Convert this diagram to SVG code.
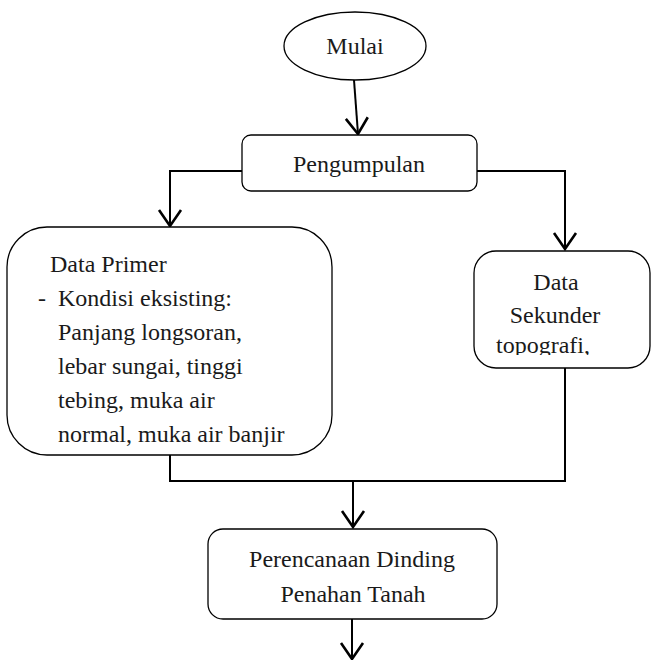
<svg xmlns="http://www.w3.org/2000/svg" width="651" height="660" viewBox="0 0 651 660">
<style>
.box{fill:#fff;stroke:#000;stroke-width:1.3}
.t{font-family:"Liberation Serif","Times New Roman",serif;font-size:24px;fill:#1a1a1a}
.c{text-anchor:middle}
.conn{fill:none;stroke:#000;stroke-width:2}
</style>
<defs>
<marker id="arr" markerUnits="userSpaceOnUse" markerWidth="24" markerHeight="28" viewBox="-20 -14 22 28" refX="0" refY="0" orient="auto">
<path d="M-16,-11 L0,0 L-16,11" fill="none" stroke="#000" stroke-width="2.6"/>
</marker>
<clipPath id="sekClip"><rect x="474" y="251" width="177" height="104"/></clipPath>
</defs>
<rect width="651" height="660" fill="#fff"/>
<g id="connectors">
<line class="conn" x1="354" y1="80" x2="358" y2="134" marker-end="url(#arr)"/>
<path class="conn" d="M242,171 H170 V226" marker-end="url(#arr)"/>
<path class="conn" d="M477,171 H565 V249" marker-end="url(#arr)"/>
<path class="conn" d="M170,455 V481 H565 V368"/>
<path class="conn" d="M353,481 V527" marker-end="url(#arr)"/>
<path class="conn" d="M352,619 V659" marker-end="url(#arr)"/>
</g>
<g id="mulai">
<ellipse class="box" cx="355" cy="46" rx="71" ry="34"/>
<text class="t c" x="355" y="54">Mulai</text>
</g>
<g id="pengumpulan">
<rect class="box" x="242" y="135" width="235" height="56" rx="9"/>
<text class="t c" x="359" y="172">Pengumpulan</text>
</g>
<g id="data-primer">
<rect class="box" x="7" y="227" width="325" height="228" rx="40"/>
<text class="t" x="50" y="272">Data Primer</text>
<text class="t" x="38" y="306">-</text>
<text class="t" x="58" y="306">Kondisi eksisting:</text>
<text class="t" x="58" y="340">Panjang longsoran,</text>
<text class="t" x="58" y="374">lebar sungai, tinggi</text>
<text class="t" x="58" y="408">tebing, muka air</text>
<text class="t" x="58" y="442">normal, muka air banjir</text>
</g>
<g id="data-sekunder">
<rect class="box" x="474" y="251" width="176" height="117" rx="22"/>
<text class="t c" x="556" y="290">Data</text>
<text class="t c" x="555" y="323">Sekunder</text>
<text class="t" x="496" y="353" clip-path="url(#sekClip)">topografi,</text>
</g>
<g id="perencanaan">
<rect class="box" x="208" y="529" width="289" height="90" rx="15"/>
<text class="t c" x="352" y="567">Perencanaan Dinding</text>
<text class="t c" x="353" y="602">Penahan Tanah</text>
</g>
</svg>
